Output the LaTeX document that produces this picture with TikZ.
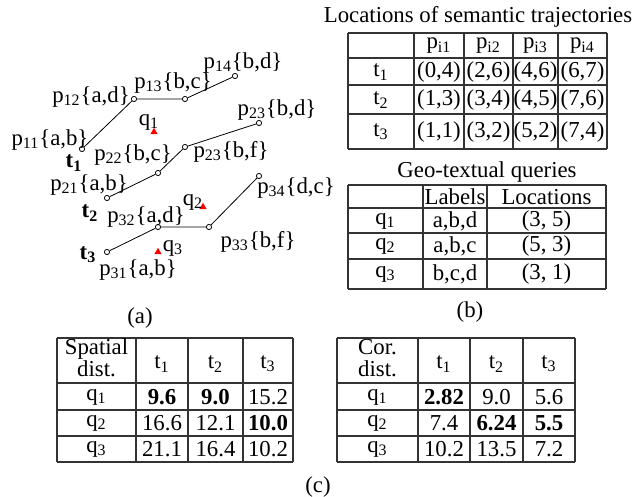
\documentclass[tikz,border=0pt]{standalone}
\usepackage{fontspec}
\setmainfont{Liberation Serif}
\usetikzlibrary{shapes.geometric}
\newcommand{\ps}[1]{p\textsubscript{#1}}
\newcommand{\qs}[1]{q\textsubscript{#1}}
\newcommand{\ts}[1]{t\textsubscript{#1}}
\newcommand{\tb}[1]{\textbf{t}\textsubscript{\textbf{#1}}}

\begin{document}
\begin{tikzpicture}[x=0.5pt, y=-0.5pt,
    every node/.style={font=\fontsize{11.4}{11}\selectfont, inner sep=0pt},
    trajpt/.style={circle, draw, fill=white, minimum size=2.6pt, line width=0.4pt},
    query/.style={regular polygon, regular polygon sides=3, fill=red, minimum size=4.2pt},
    rule/.style={draw=black!80, line width=0.6pt}]
    \useasboundingbox (0,0) rectangle (639,497);

    \node[trajpt] (p11) at (82,149) {};
    \node[trajpt] (p12) at (134,99) {};
    \node[trajpt] (p13) at (185,99) {};
    \node[trajpt] (p14) at (235,76) {};
    \node[trajpt] (p21) at (107,198) {};
    \node[trajpt] (p22) at (158,173) {};
    \node[trajpt] (p23) at (185,147) {};
    \node[trajpt] (p24) at (259,123) {};
    \node[trajpt] (p31) at (107,252) {};
    \node[trajpt] (p32) at (158,227) {};
    \node[trajpt] (p33) at (209,227) {};
    \node[trajpt] (p34) at (259,176) {};
    \draw (p11) -- (p12) -- (p13) -- (p14);
    \draw (p21) -- (p22) -- (p23) -- (p24);
    \draw (p31) -- (p32) -- (p33) -- (p34);

    \node[query] (q1) at (154,132) {};
    \node[query] (q2) at (203,207) {};
    \node[query] (q3) at (158,252) {};
    \node (q1l) at (149,122) {\qs{1}};
    \node (q2l) at (193,202) {\qs{2}};
    \node (q3l) at (173,248) {\qs{3}};

    \node (l11) at (50,140) {\ps{11}\{a,b\}};
    \node (l12) at (91,97) {\ps{12}\{a,d\}};
    \node (l13) at (173,83) {\ps{13}\{b,c\}};
    \node (l14) at (243,63) {\ps{14}\{b,d\}};
    \node (l21) at (89,185) {\ps{21}\{a,b\}};
    \node (l22) at (133,155) {\ps{22}\{b,c\}};
    \node (l23) at (231,152) {\ps{23}\{b,f\}};
    \node (l24) at (277,110) {\ps{23}\{b,d\}};
    \node (l31) at (138,270) {\ps{31}\{a,b\}};
    \node (l32) at (146,217) {\ps{32}\{a,d\}};
    \node (l33) at (258,242) {\ps{33}\{b,f\}};
    \node (l34) at (296,188) {\ps{34}\{d,c\}};
    \node (t1) at (74,163) {\tb{1}};
    \node (t2) at (90,213) {\tb{2}};
    \node (t3) at (88,255) {\tb{3}};
    \node (capa) at (140,318) {(a)};

    \node (loctitle) at (478,17) {Locations of semantic trajectories};
    \foreach \y in {33,58,85,114,149} \draw[rule] (348,\y) -- (607,\y);
    \foreach \x in {348,414,464,513,558,607} \draw[rule] (\x,33) -- (\x,149);
    \node at (439,46) {\ps{i1}};
    \node at (488.5,46) {\ps{i2}};
    \node at (535.5,46) {\ps{i3}};
    \node at (582.5,46) {\ps{i4}};
    \node at (381,72) {\ts{1}};
    \node at (381,100) {\ts{2}};
    \node at (381,132) {\ts{3}};
    \node at (439,72) {(0,4)};
    \node at (488.5,72) {(2,6)};
    \node at (535.5,72) {(4,6)};
    \node at (582.5,72) {(6,7)};
    \node at (439,100) {(1,3)};
    \node at (488.5,100) {(3,4)};
    \node at (535.5,100) {(4,5)};
    \node at (582.5,100) {(7,6)};
    \node at (439,132) {(1,1)};
    \node at (488.5,132) {(3,2)};
    \node at (535.5,132) {(5,2)};
    \node at (582.5,132) {(7,4)};

    \node (geotitle) at (487,172) {Geo-textual queries};
    \foreach \y in {185,208,233,259,289} \draw[rule] (348,\y) -- (606,\y);
    \foreach \x in {348,423,487,606} \draw[rule] (\x,185) -- (\x,289);
    \node at (455,197) {Labels};
    \node at (546.5,197) {Locations};
    \node at (385.5,221) {\qs{1}};
    \node at (385.5,246) {\qs{2}};
    \node at (385.5,274) {\qs{3}};
    \node at (455,221) {a,b,d};
    \node at (455,246) {a,b,c};
    \node at (455,274) {b,c,d};
    \node at (546.5,221) {(3, 5)};
    \node at (546.5,246) {(5, 3)};
    \node at (546.5,274) {(3, 1)};
    \node (capb) at (470,312) {(b)};

    \foreach \y in {338,383,410,436,462} \draw[rule] (57,\y) -- (293,\y);
    \foreach \x in {57,136,188,243,293} \draw[rule] (\x,338) -- (\x,462);
    \node[align=center] at (96.5,358) {Spatial\\dist.};
    \node at (162,364) {\ts{1}};
    \node at (215.5,364) {\ts{2}};
    \node at (268,364) {\ts{3}};
    \node at (96.5,397) {\qs{1}};
    \node at (96.5,423) {\qs{2}};
    \node at (96.5,449) {\qs{3}};
    \node at (162,397) {\textbf{9.6}};
    \node at (215.5,397) {\textbf{9.0}};
    \node at (268,397) {15.2};
    \node at (162,423) {16.6};
    \node at (215.5,423) {12.1};
    \node at (268,423) {\textbf{10.0}};
    \node at (162,449) {21.1};
    \node at (215.5,449) {16.4};
    \node at (268,449) {10.2};

    \foreach \y in {338,383,410,436,462} \draw[rule] (337,\y) -- (575,\y);
    \foreach \x in {337,418,470,523,575} \draw[rule] (\x,338) -- (\x,462);
    \node[align=center] at (377.5,358) {Cor.\\dist.};
    \node at (444,364) {\ts{1}};
    \node at (496.5,364) {\ts{2}};
    \node at (549,364) {\ts{3}};
    \node at (377.5,397) {\qs{1}};
    \node at (377.5,423) {\qs{2}};
    \node at (377.5,449) {\qs{3}};
    \node at (444,397) {\textbf{2.82}};
    \node at (496.5,397) {9.0};
    \node at (549,397) {5.6};
    \node at (444,423) {7.4};
    \node at (496.5,423) {\textbf{6.24}};
    \node at (549,423) {\textbf{5.5}};
    \node at (444,449) {10.2};
    \node at (496.5,449) {13.5};
    \node at (549,449) {7.2};
    \node (capc) at (318,487) {(c)};
\end{tikzpicture}
\end{document}
